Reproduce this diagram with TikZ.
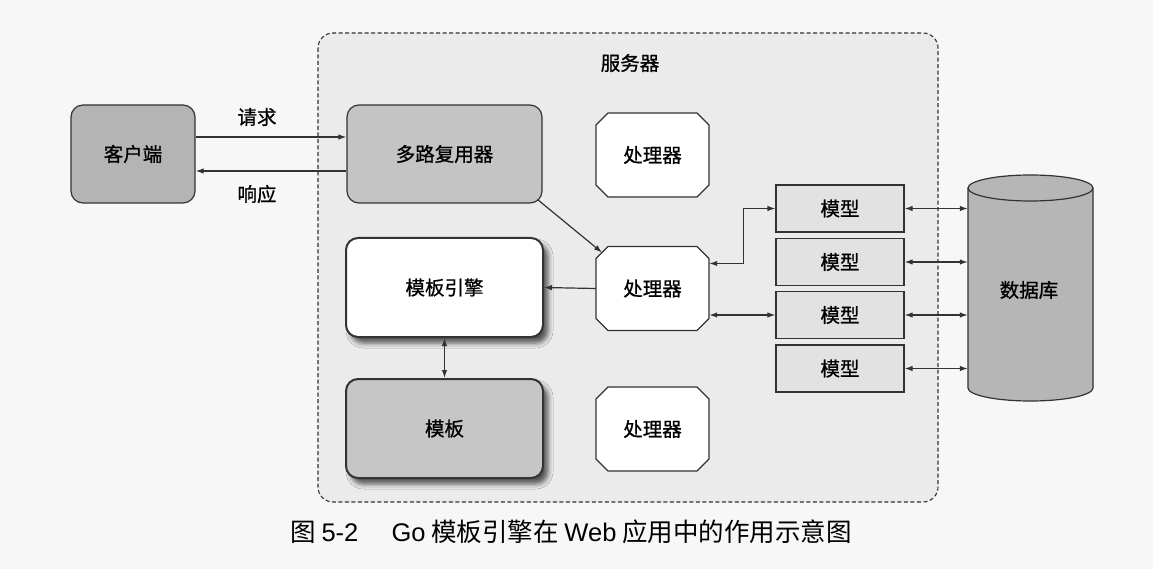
\documentclass[tikz,border=0pt]{standalone}
\usepackage{fontspec}
\setmainfont{Noto Sans CJK SC}
\newfontfamily\lblfont{Noto Sans CJK SC}[FakeBold=0.9]
\newfontfamily\latf{Liberation Sans}
\usetikzlibrary{arrows.meta,calc,shadows.blur}
\definecolor{pagebg}{HTML}{F7F7F7}
\definecolor{ln}{HTML}{333333}
\definecolor{serverfill}{HTML}{EBEBEB}
\definecolor{clientfill}{HTML}{B4B4B4}
\definecolor{muxfill}{HTML}{C4C4C4}
\definecolor{tplfill}{HTML}{C6C6C6}
\definecolor{modelfill}{HTML}{E2E2E2}
\definecolor{dbfill}{HTML}{B6B6B6}
\tikzset{
  conn/.style={draw=ln, line width=1.2pt},
  roundbox/.style={draw=ln, line width=1.2pt, rounded corners=12pt, inner sep=0pt},
  heavybox/.style={draw=ln, line width=2pt, rounded corners=12pt, inner sep=0pt,
    blur shadow={shadow xshift=5pt, shadow yshift=-6pt, shadow blur radius=5pt, shadow opacity=65}},
  octline/.style={draw=ln, fill=white, line width=1.2pt},
  octtext/.style={minimum width=113pt, minimum height=84pt, inner sep=0pt},
  modelbox/.style={draw=ln, fill=modelfill, line width=1.2pt, minimum width=128pt, minimum height=47pt, inner sep=0pt},
  lbl/.style={inner sep=0pt},
}
\newcommand\octnode[3]{%
  \path[octline] ($(#2)+(-44.5,-42)$) -- ($(#2)+(44.5,-42)$) -- ($(#2)+(56.5,-30)$) -- ($(#2)+(56.5,30)$)
     -- ($(#2)+(44.5,42)$) -- ($(#2)+(-44.5,42)$) -- ($(#2)+(-56.5,30)$) -- ($(#2)+(-56.5,-30)$) -- cycle;
  \node[octtext] (#1) at (#2) {#3};
  \coordinate (#1-tl) at ($(#2)+(-50.5,-36)$);
}
\begin{document}
\begin{tikzpicture}[x=1pt, y=-1pt, font=\lblfont\fontsize{19.5}{22}\selectfont,
  >={Latex[length=8pt,width=5.5pt]}]
\useasboundingbox[fill=pagebg] (0,0) rectangle (1153,569);

% server area
\path[draw=ln, fill=serverfill, line width=1.1pt, dash pattern=on 4pt off 2.5pt, rounded corners=15pt]
  (318,33) rectangle (938,502);
\node[lbl] (srv) at (630,63) {服务器};

% client and multiplexer
\node[roundbox, fill=clientfill, minimum width=124pt, minimum height=98pt] (client) at (133,154) {客户端};
\node[roundbox, fill=muxfill, minimum width=195pt, minimum height=98pt] (mux) at (444.5,154) {多路复用器};

\draw[conn, ->] ([yshift=17pt]client.east) -- ([yshift=17pt]client.east -| mux.west);
\draw[conn, <-] ([yshift=-17pt]client.east) -- ([yshift=-17pt]client.east -| mux.west);
\node[lbl] (req) at (257,117) {请求};
\node[lbl] (resp) at (257,194) {响应};

% handlers
\octnode{h1}{652.5,155}{处理器}
\octnode{h2}{652.5,288.5}{处理器}
\octnode{h3}{652.5,429}{处理器}

% template engine and template
\node[heavybox, fill=white, minimum width=197pt, minimum height=99pt] (engine) at (444.5,287.5) {模板引擎};
\node[heavybox, fill=tplfill, minimum width=197pt, minimum height=99pt] (tpl) at (444.5,428.5) {模板};

\draw[conn, ->] ([xshift=-5pt,yshift=4pt]mux.south east) -- (h2-tl);
\draw[conn, ->] (h2.west) -- (engine.east);
\draw[conn, <->] (engine.south) -- (tpl.north);

% models
\node[modelbox] (m1) at (840,208.5) {模型};
\node[modelbox] (m2) at (840,262) {模型};
\node[modelbox] (m3) at (840,315) {模型};
\node[modelbox] (m4) at (840,368.5) {模型};

\draw[conn, <->] ([yshift=25pt]h2.east) -- ++(34,0) |- (m1.west);
\draw[conn, <->] (h2.east |- m3.west) -- (m3.west);

% database
\node[minimum width=125pt, minimum height=226pt, inner sep=0pt] (db) at (1030.5,288) {};
\path[draw=ln, fill=dbfill, line width=1.2pt]
  (968,188) -- (968,388) arc[start angle=180, end angle=360, x radius=62.5, y radius=-13]
  -- (1093,188) arc[start angle=0, end angle=180, x radius=62.5, y radius=-13] -- cycle;
\path[draw=ln, line width=1.2pt]
  (968,188) arc[start angle=180, end angle=360, x radius=62.5, y radius=-13];
\node[lbl] (dbl) at (1029,290) {数据库};

\foreach \m in {m1,m2,m3,m4}
  \draw[conn, <->] (\m.east) -- (\m.east -| db.west);

% caption
\node[lbl] (cap) at (571,532) {\rmfamily\fontsize{25.5}{28}\selectfont 图 {\latf 5-2}\hspace{1.3em}{\latf Go} 模板引擎在 {\latf Web} 应用中的作用示意图};
\end{tikzpicture}
\end{document}
